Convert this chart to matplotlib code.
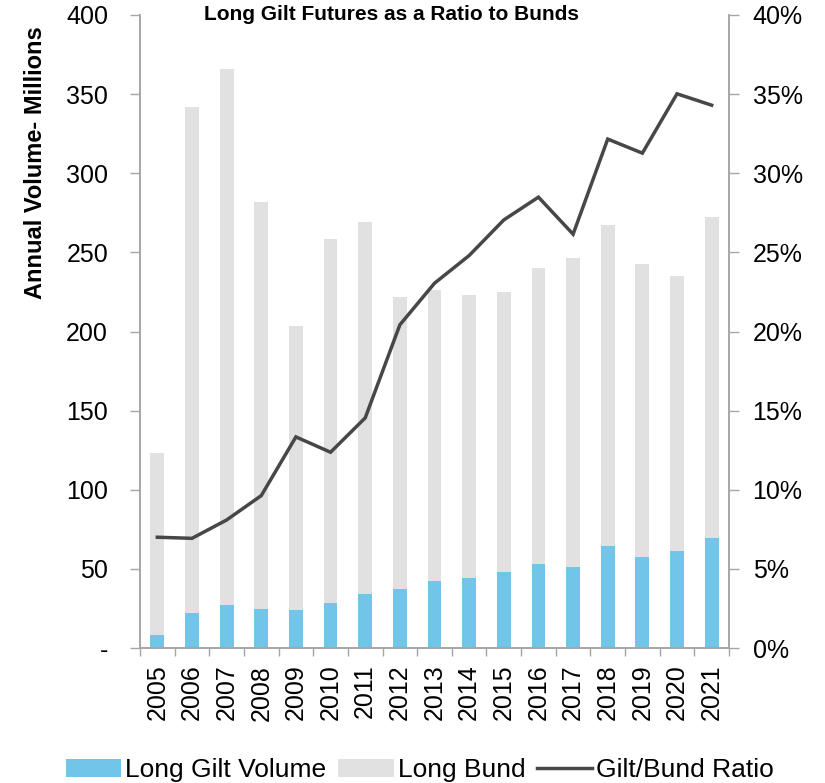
import matplotlib
matplotlib.use("Agg")
import matplotlib.pyplot as plt
import numpy as np
from matplotlib.ticker import FuncFormatter

plt.rcParams['font.family'] = ['Liberation Sans', 'DejaVu Sans']

years = ["2005", "2006", "2007", "2008", "2009", "2010", "2011", "2012", "2013",
         "2014", "2015", "2016", "2017", "2018", "2019", "2020", "2021"]
long_bund = [123.3, 342.0, 365.8, 281.7, 203.6, 258.7, 269.5, 222.0, 226.0,
             223.3, 225.2, 240.0, 246.7, 267.0, 242.7, 235.3, 272.2]
long_gilt = [8.0, 22.1, 27.4, 24.7, 24.0, 28.4, 34.1, 37.3, 42.4,
             44.2, 48.0, 53.1, 51.2, 64.7, 57.5, 61.3, 69.5]
ratio = [0.0700, 0.0693, 0.0809, 0.0963, 0.1334, 0.1237, 0.1454, 0.2042, 0.2305,
         0.2480, 0.2705, 0.2849, 0.2615, 0.3216, 0.3127, 0.3502, 0.3430]

gilt_color = "#71C5E8"
bund_color = "#E1E1E1"
line_color = "#474747"
spine_color = "#A6A6A6"

fig = plt.figure(figsize=(8.25, 7.83), dpi=100)
ax = fig.add_axes([140/825, 1-648/783, (729-140)/825, (648-15)/783])
ax2 = ax.twinx()

x = np.arange(len(years))
w = 0.40
b1 = ax.bar(x, long_bund, width=w, color=bund_color, zorder=1, label="Long Bund")
b2 = ax.bar(x, long_gilt, width=w, color=gilt_color, zorder=2, label="Long Gilt Volume")
l1, = ax2.plot(x, ratio, color=line_color, lw=2.5, label="Gilt/Bund Ratio", solid_joinstyle='miter')

ax.set_xlim(-0.5, len(years)-0.5)
ax.set_ylim(0, 400)
ax2.set_ylim(0, 0.40)

ax.set_yticks(np.arange(0, 401, 50))
ax.yaxis.set_major_formatter(FuncFormatter(lambda v, p: "-" if v == 0 else f"{int(v)}"))
ax2.set_yticks(np.arange(0, 0.401, 0.05))
ax2.yaxis.set_major_formatter(FuncFormatter(lambda v, p: f"{v*100:.0f}%"))

ax.set_xticks(np.arange(-0.5, len(years), 1.0))
ax.set_xticklabels([])
ax.set_xticks(x, minor=True)
ax.set_xticklabels(years, minor=True, rotation=90, fontsize=18)
ax.tick_params(axis='x', which='major', length=6, width=1, color=spine_color, direction='out')
ax.tick_params(axis='x', which='minor', length=0, pad=12)

ax.tick_params(axis='y', length=7, width=1, color=spine_color, labelsize=18, pad=16)
ax2.tick_params(axis='y', length=7, width=1, color=spine_color, labelsize=18, pad=10)

for a in (ax, ax2):
    for s in ("top",):
        a.spines[s].set_visible(False)
    for s in ("left", "right", "bottom"):
        a.spines[s].set_color(spine_color)
        a.spines[s].set_linewidth(1.2)

fig.text(391/825, 1-15/783, "Long Gilt Futures as a Ratio to Bunds", ha='center', va='center',
         fontsize=15, fontweight='bold')
fig.text(36/825, 1-163/783, "Annual Volume- Millions", ha='center', va='center', rotation=90,
         fontsize=17, fontweight='bold')

fig.legend([b2, b1, l1], ["Long Gilt Volume", "Long Bund", "Gilt/Bund Ratio"],
           loc='center', bbox_to_anchor=(420/825, 1-770/783), ncol=3, frameon=False,
           fontsize=19, handlelength=2.1, handletextpad=0.15, columnspacing=0.45,
           borderpad=0, borderaxespad=0)

fig.savefig("out.png", dpi=100)
